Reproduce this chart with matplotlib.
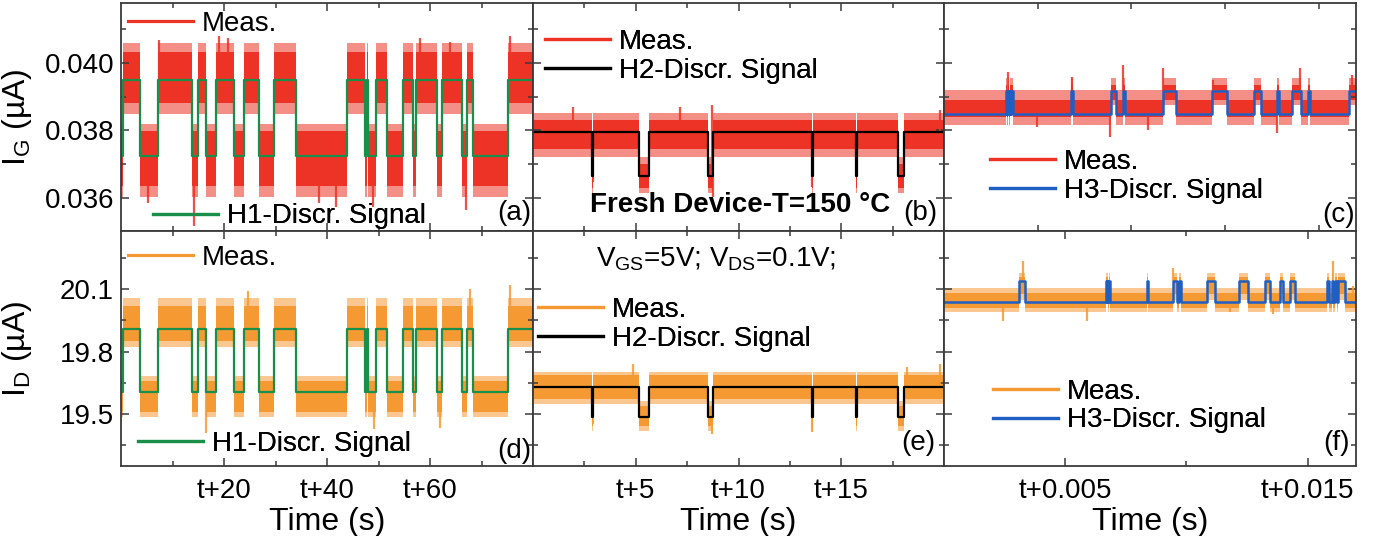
import numpy as np
import matplotlib.pyplot as plt
from matplotlib.lines import Line2D

plt.rcParams['font.family'] = ['Liberation Sans', 'DejaVu Sans']
plt.rcParams['mathtext.fontset'] = 'custom'
plt.rcParams['mathtext.rm'] = 'Liberation Sans'
plt.rcParams['mathtext.it'] = 'Liberation Sans:italic'
plt.rcParams['mathtext.bf'] = 'Liberation Sans:bold'

# ---- values ----
# switching times of the discrete signals (start state: 0 = low, 1 = high)
h1_switch = [0.47, 3.76, 7.1, 13.8, 15.0, 16.5, 18.35, 21.9, 23.9, 26.85, 29.7, 33.95,
             43.8, 47.4, 47.7, 48.0, 49.5, 51.7, 54.7, 56.7, 57.3, 61.4, 62.3, 66.2,
             67.2, 68.4, 75.2]
h2_switch = [2.88, 2.93, 5.17, 5.66, 8.50, 8.77, 13.59, 13.64, 15.70, 15.75, 17.75, 18.05]
h3c_switch = [0.00165, 0.00168, 0.00170, 0.00173, 0.00175, 0.00178, 0.00180, 0.00183,
              0.00340, 0.00345, 0.00446, 0.00458, 0.00477, 0.00482, 0.00584, 0.00619,
              0.00716, 0.00755, 0.00829, 0.00846, 0.00890, 0.00895, 0.00930, 0.00953,
              0.00971, 0.00977, 0.01080]
h3f_switch = [0.00310, 0.00334, 0.00667, 0.00671, 0.00674, 0.00678, 0.00681, 0.00685,
              0.00838, 0.00843, 0.00944, 0.00963, 0.00971, 0.00977, 0.01084, 0.01118,
              0.01217, 0.01256, 0.01325, 0.01345, 0.01386, 0.01398, 0.01428, 0.01448,
              0.01579, 0.01590, 0.01600, 0.01607, 0.01613, 0.01620, 0.01627, 0.01655]

# discrete levels (low, high)
a_levels = [0.03724, 0.03949]
b_levels = [0.03666, 0.03796]
c_levels = [0.03849, 0.03917]
d_levels = [19.605, 19.91]
e_levels = [19.485, 19.629]
f_levels = [20.0375, 20.138]

# measured band per state (low, high): outer top, outer bottom, core top, core bottom
a_band = [[0.03819, 0.03604, 0.03798, 0.03635], [0.04059, 0.03849, 0.04033, 0.03880]]
b_band = [[0.03722, 0.03614, 0.03700, 0.03630], [0.03851, 0.03722, 0.03830, 0.03745]]
c_band = [[0.03920, 0.03815, 0.03890, 0.03840], [0.03955, 0.03875, 0.03935, 0.03890]]
d_band = [[19.683, 19.484, 19.660, 19.510], [20.057, 19.824, 20.020, 19.850]]
e_band = [[19.563, 19.419, 19.540, 19.440], [19.700, 19.547, 19.685, 19.570]]
f_band = [[20.105, 19.990, 20.080, 20.010], [20.180, 20.050, 20.160, 20.075]]

# spikes of the measured traces (time, value)
a_spk_t = [5.3, 7.4, 14.2, 19.0, 20.7, 38.4, 41.8, 48.9, 58.0, 63.9, 66.9, 75.6]
a_spk_y = [0.03584, 0.04068, 0.03517, 0.04079, 0.04073, 0.03585, 0.03573, 0.03573,
           0.04073, 0.04063, 0.03564, 0.04079]
b_spk_t = [1.96, 2.9, 7.15, 8.7, 8.74, 13.6, 19.8]
b_spk_y = [0.0387, 0.03648, 0.0387, 0.03875, 0.03604, 0.03633, 0.0386]
c_spk_t = [0.001717, 0.002475, 0.003426, 0.00443, 0.00477, 0.005455, 0.005856,
           0.00719, 0.00888, 0.009505, 0.01089]
c_spk_y = [0.03974, 0.03811, 0.03959, 0.03781, 0.03993, 0.03801, 0.03984,
           0.03949, 0.03791, 0.03984, 0.03964]
d_spk_t = [16.5, 24.7, 49.1, 61.9, 67.8, 75.6]
d_spk_y = [19.41, 20.09, 19.427, 19.434, 20.10, 20.12]
e_spk_t = [2.9, 4.88, 8.7, 13.6, 18.2, 19.8]
e_spk_y = [19.451, 19.74, 19.403, 19.411, 19.724, 19.74]
f_spk_t = [0.002448, 0.003246, 0.005887, 0.009463, 0.0118, 0.01359, 0.01606, 0.01689]
f_spk_y = [19.948, 20.236, 19.948, 20.204, 19.99, 19.98, 20.236, 20.116]

red = '#ec3325'
orange = '#f59a33'
green = '#1a8f4a'
blue = '#1f5fc4'
FS = 20


def draw(ax, switch, start, t_end, levels, band, spk_t, spk_y, mcol, dcol, dlw):
    ts = np.r_[0.0, switch, t_end]
    st = (start + np.arange(len(ts))) % 2
    st[-1] = st[-2]
    band = np.array(band)
    lv = np.array(levels)[st]
    ax.fill_between(ts, band[st, 1], band[st, 0], step='post', color=mcol, alpha=0.55, lw=0)
    ax.fill_between(ts, band[st, 3], band[st, 2], step='post', color=mcol, lw=0)
    idx = np.searchsorted(ts, spk_t, side='right') - 1
    ax.vlines(spk_t, lv[idx], spk_y, color=mcol, lw=1.6, alpha=0.85)
    ax.step(ts, lv, where='post', color=dcol, lw=dlw)


def legend(ax, labels, colors, x, y, lsp=0.1):
    hs = [Line2D([], [], color=c, lw=2.3) for c in colors]
    lg = ax.legend(hs, labels, loc='center left', bbox_to_anchor=(x, y), frameon=False,
                   fontsize=FS, handlelength=2.35, handletextpad=0.3, borderpad=0,
                   borderaxespad=0, labelspacing=lsp)
    ax.add_artist(lg)


fig = plt.figure(figsize=(13.85, 5.36), dpi=100)
W, H = 1385, 536
cols = [(121, 533), (533, 944), (944, 1356)]
rows = [(3, 231), (231, 466)]
axs = [[fig.add_axes([c0 / W, 1 - r1 / H, (c1 - c0) / W, (r1 - r0) / H]) for (c0, c1) in cols]
       for (r0, r1) in rows]

draw(axs[0][0], h1_switch, 0, 80, a_levels, a_band, a_spk_t, a_spk_y, red, green, 1.6)
draw(axs[0][1], h2_switch, 1, 20, b_levels, b_band, b_spk_t, b_spk_y, red, 'black', 1.6)
draw(axs[0][2], h3c_switch, 0, 0.011, c_levels, c_band, c_spk_t, c_spk_y, red, blue, 1.8)
draw(axs[1][0], h1_switch, 0, 80, d_levels, d_band, d_spk_t, d_spk_y, orange, green, 1.6)
draw(axs[1][1], h2_switch, 1, 20, e_levels, e_band, e_spk_t, e_spk_y, orange, 'black', 1.6)
draw(axs[1][2], h3f_switch, 0, 0.017, f_levels, f_band, f_spk_t, f_spk_y, orange, blue, 1.8)

xlims = [(0, 80), (0, 20), (0, 0.017)]
xmaj = [[20, 40, 60], [5, 10, 15], [0.005, 0.015]]
xmin = [[10, 30, 50, 70], [2.5, 7.5, 12.5, 17.5], [0.01]]
xlab = [['t+20', 't+40', 't+60'], ['t+5', 't+10', 't+15'], ['t+0.005', 't+0.015']]

for r in range(2):
    for c in range(3):
        ax = axs[r][c]
        for s in ax.spines.values():
            s.set_color('#3a3a3a')
            s.set_linewidth(1.3)
        ax.tick_params(which='both', direction='in', top=True, right=True,
                       color='#3a3a3a', labelsize=FS, width=1.1)
        ax.tick_params(which='major', length=6)
        ax.tick_params(which='minor', length=3.5)
        ax.tick_params(axis='x', pad=9)
        ax.tick_params(axis='y', pad=5)
        if r == 0:
            ax.set_ylim(0.03502, 0.04177)
            ax.set_yticks([0.036, 0.038, 0.040])
            ax.set_yticks([0.037, 0.039, 0.041], minor=True)
            ax.set_yticklabels(['0.036', '0.038', '0.040'])
        else:
            ax.set_ylim(19.249, 20.38)
            ax.set_yticks([19.5, 19.8, 20.1])
            ax.set_yticks([19.35, 19.65, 19.95, 20.25], minor=True)
            ax.set_yticklabels(['19.5', '19.8', '20.1'])
        if c > 0:
            ax.tick_params(axis='y', which='both', labelleft=False)
        if r == 0 and c == 2:
            ax.set_xlim(0, 0.011)
            ax.set_xticks([0.0025, 0.005, 0.0075, 0.01])
            ax.tick_params(axis='x', which='major', length=4)
        else:
            ax.set_xlim(*xlims[c])
            ax.set_xticks(xmaj[c])
            ax.set_xticks(xmin[c], minor=True)
        if r == 0:
            ax.tick_params(axis='x', which='both', labelbottom=False)
        else:
            ax.set_xticklabels(xlab[c])
            ax.set_xlabel('Time (s)', fontsize=23)
            ax.xaxis.set_label_coords(0.5, -0.175)

axs[0][0].set_ylabel('I$_{\\mathrm{G}}$ (µA)', fontsize=23)
axs[0][0].yaxis.set_label_coords(-0.21, 0.5)
axs[1][0].set_ylabel('I$_{\\mathrm{D}}$ (µA)', fontsize=23)
axs[1][0].yaxis.set_label_coords(-0.21, 0.5)

legend(axs[0][0], ['Meas.'], [red], 0.017, 0.908)
legend(axs[0][0], ['H1-Discr. Signal'], [green], 0.078, 0.064)
legend(axs[0][1], ['Meas.', 'H2-Discr. Signal'], [red, 'black'], 0.029, 0.765)
legend(axs[0][2], ['Meas.', 'H3-Discr. Signal'], [red, blue], 0.112, 0.239)
legend(axs[1][0], ['Meas.'], [orange], 0.017, 0.885)
legend(axs[1][0], ['H1-Discr. Signal'], [green], 0.041, 0.094)
legend(axs[1][1], ['Meas.', 'H2-Discr. Signal'], [orange, 'black'], 0.012, 0.602)
legend(axs[1][2], ['Meas.', 'H3-Discr. Signal'], [orange, blue], 0.119, 0.255)

tags = ['(a)', '(b)', '(c)', '(d)', '(e)', '(f)']
tag_pos = [(0.995, 0.079), (0.985, 0.079), (0.997, 0.07), (0.995, 0.064), (0.978, 0.098), (0.985, 0.098)]
for i, (tx, ty) in enumerate(tag_pos):
    axs[i // 3][i % 3].text(tx, ty, tags[i], transform=axs[i // 3][i % 3].transAxes,
                            ha='right', va='center', fontsize=FS)

axs[0][1].text(0.504, 0.114, 'Fresh Device-T=150 °C', transform=axs[0][1].transAxes,
               ha='center', va='center', fontsize=FS, fontweight='bold')
axs[1][1].text(0.446, 0.847, 'V$_{\\mathrm{GS}}$=5V; V$_{\\mathrm{DS}}$=0.1V;',
               transform=axs[1][1].transAxes, ha='center', va='baseline', fontsize=FS)

fig.savefig('out.png', dpi=100)
